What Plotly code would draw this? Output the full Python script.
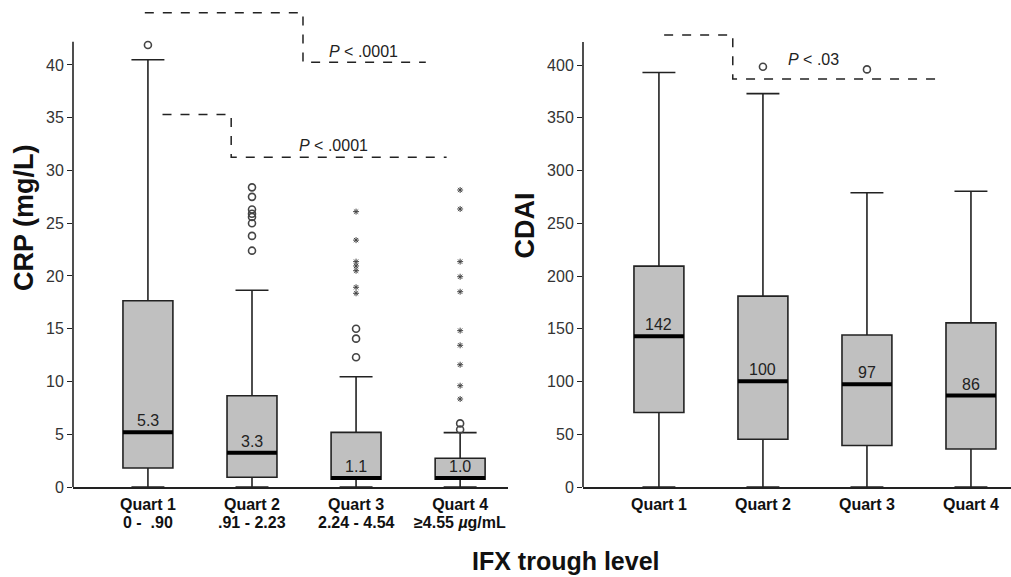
import plotly.graph_objects as go

# ---------------- data ----------------
quarts = [0, 1, 2, 3]
quart_names = ["Quart 1", "Quart 2", "Quart 3", "Quart 4"]
crp_ranges = ["0 -  .90", ".91 - 2.23", "2.24 - 4.54", "≥4.55 <i>µ</i>g/mL"]

crp_q1 = [1.8, 0.92, 0.73, 0.73]
crp_median = [5.2, 3.25, 0.85, 0.85]
crp_q3 = [17.66, 8.65, 5.18, 2.72]
crp_low = [0, 0, 0, 0]
crp_high = [40.5, 18.65, 10.45, 5.15]
crp_median_labels = ["5.3", "3.3", "1.1", "1.0"]

crp_circle_x = [0, 1, 1, 1, 1, 1, 1, 1, 1, 2, 2, 2, 3, 3]
crp_circle_y = [41.9, 28.4, 27.5, 26.3, 25.9, 25.6, 25.0, 23.8, 22.4, 15.0, 14.06, 12.3, 6.03, 5.45]
crp_star_x = [2, 2, 2, 2, 2, 2, 2, 3, 3, 3, 3, 3, 3, 3, 3, 3, 3]
crp_star_y = [26.1, 23.4, 21.36, 20.95, 20.5, 18.93, 18.36,
              28.15, 26.35, 21.36, 19.93, 18.51, 14.82, 13.43, 11.59, 9.6, 8.34]

cdai_q1 = [70.6, 45.3, 39.3, 36.0]
cdai_median = [143, 100.3, 97.4, 86.7]
cdai_q3 = [209.4, 181, 144.2, 155.6]
cdai_low = [0, 0, 0, 0]
cdai_high = [393, 373, 279, 280.5]
cdai_median_labels = ["142", "100", "97", "86"]
cdai_circle_x = [1, 2]
cdai_circle_y = [398.5, 396]

# significance brackets (x in category units, y in data units)
crp_br1_x = [-0.03, 1.49, 1.49, 2.67]
crp_br1_y = [44.96, 44.96, 40.25, 40.25]
crp_br1_label = (2.07, 41.3, "<i>P</i> < .0001")
crp_br2_x = [0.14, 0.80, 0.80, 2.87]
crp_br2_y = [35.3, 35.3, 31.25, 31.25]
crp_br2_label = (1.78, 32.4, "<i>P</i> < .0001")
cdai_br_x = [0.05, 0.71, 0.71, 2.73]
cdai_br_y = [428.6, 428.6, 386.8, 386.8]
cdai_br_label = (1.49, 405.8, "<i>P</i> < .03")

crp_yticks = [0, 5, 10, 15, 20, 25, 30, 35, 40]
cdai_yticks = [0, 50, 100, 150, 200, 250, 300, 350, 400]

# ---------------- style ----------------
FONT = "Liberation Sans, Arial, sans-serif"
DARK = "#222222"
BOX_FILL = "#c0c0c0"
BOX_W = 0.48
crp_range = [0, 45.4]
cdai_range = [0, 454.2]
crp_axis_top = 42.2
cdai_axis_top = 422
left_dom = [73 / 1011, 508 / 1011]
right_dom = [583 / 1011, 1.0]

fig = go.Figure()


def add_panel(xa, ya, q1, med, q3, lo, hi, cx, cy, sx, sy):
    fig.add_trace(go.Box(
        x=quarts, q1=q1, median=med, q3=q3, lowerfence=lo, upperfence=hi,
        boxpoints=False, width=BOX_W, whiskerwidth=0.66,
        fillcolor=BOX_FILL, line=dict(color=DARK, width=1.6),
        xaxis=xa, yaxis=ya, showlegend=False, hoverinfo="skip"))
    mx, my = [], []
    for i, m in zip(quarts, med):
        mx += [i - BOX_W / 2, i + BOX_W / 2, None]
        my += [m, m, None]
    fig.add_trace(go.Scatter(x=mx, y=my, mode="lines",
                             line=dict(color="black", width=4),
                             xaxis=xa, yaxis=ya, showlegend=False, hoverinfo="skip"))
    if cx:
        fig.add_trace(go.Scatter(x=cx, y=cy, mode="markers",
                                 marker=dict(symbol="circle-open", size=7, color="#444",
                                             line=dict(width=1.6, color="#444")),
                                 xaxis=xa, yaxis=ya, showlegend=False, cliponaxis=False))
    if sx:
        fig.add_trace(go.Scatter(x=sx, y=sy, mode="markers",
                                 marker=dict(symbol="asterisk-open", size=5, color="#444",
                                             line=dict(width=1, color="#444")),
                                 xaxis=xa, yaxis=ya, showlegend=False, cliponaxis=False))


add_panel("x", "y", crp_q1, crp_median, crp_q3, crp_low, crp_high,
          crp_circle_x, crp_circle_y, crp_star_x, crp_star_y)
add_panel("x2", "y2", cdai_q1, cdai_median, cdai_q3, cdai_low, cdai_high,
          cdai_circle_x, cdai_circle_y, [], [])

# brackets
for bx, by, xa, ya in [(crp_br1_x, crp_br1_y, "x", "y"),
                       (crp_br2_x, crp_br2_y, "x", "y"),
                       (cdai_br_x, cdai_br_y, "x2", "y2")]:
    fig.add_trace(go.Scatter(x=bx, y=by, mode="lines",
                             line=dict(color=DARK, width=1.5, dash="dash"),
                             xaxis=xa, yaxis=ya, showlegend=False, hoverinfo="skip"))

annotations = []
for (lx, ly, txt), xa, ya in [(crp_br1_label, "x", "y"), (crp_br2_label, "x", "y"),
                              (cdai_br_label, "x2", "y2")]:
    annotations.append(dict(x=lx, y=ly, xref=xa, yref=ya, text=txt, showarrow=False,
                            font=dict(family=FONT, size=16, color=DARK)))

for meds, labels, xa, ya in [(crp_median, crp_median_labels, "x", "y"),
                             (cdai_median, cdai_median_labels, "x2", "y2")]:
    for i, m, t in zip(quarts, meds, labels):
        annotations.append(dict(x=i, y=m, xref=xa, yref=ya, text=t, showarrow=False,
                                yanchor="bottom", yshift=1,
                                font=dict(family=FONT, size=16, color=DARK)))

# second line of the left x tick labels (IFX ranges)
for i, t in zip(quarts, crp_ranges):
    annotations.append(dict(x=i, y=0, xref="x", yref="paper", yshift=-35,
                            xanchor="center", yanchor="middle", text="<b>" + t + "</b>",
                            showarrow=False, font=dict(family=FONT, size=16, color="#111")))

# axis titles
annotations.append(dict(x=24 / 1011, y=0.5616, xref="paper", yref="paper",
                        xanchor="center", yanchor="middle",
                        text="<b>CRP (mg/L)</b>", textangle=-90, showarrow=False,
                        font=dict(family=FONT, size=27, color="#111")))
annotations.append(dict(x=525 / 1011, y=0.546, xref="paper", yref="paper",
                        xanchor="center", yanchor="middle",
                        text="<b>CDAI</b>", textangle=-90, showarrow=False,
                        font=dict(family=FONT, size=27, color="#111")))
annotations.append(dict(x=566 / 1011, y=0, xref="paper", yref="paper", yshift=-74,
                        xanchor="center", yanchor="middle",
                        text="<b>IFX trough level</b>", showarrow=False,
                        font=dict(family=FONT, size=25, color="#111")))

# y axis lines that stop at the top tick region
shapes = [
    dict(type="line", xref="paper", yref="paper", x0=left_dom[0], x1=left_dom[0],
         y0=0, y1=crp_axis_top / crp_range[1], line=dict(color=DARK, width=1.6)),
    dict(type="line", xref="paper", yref="paper", x0=right_dom[0], x1=right_dom[0],
         y0=0, y1=cdai_axis_top / cdai_range[1], line=dict(color=DARK, width=1.6)),
]

xcommon = dict(showgrid=False, zeroline=False, showline=True, linecolor=DARK, linewidth=1.6,
               ticks="outside", ticklen=2, tickcolor="rgba(0,0,0,0)",
               tickfont=dict(family=FONT, size=16, color="#111"))
ycommon = dict(showgrid=False, zeroline=False, showline=False,
               ticks="outside", ticklen=5, tickwidth=1.3, tickcolor=DARK,
               tickfont=dict(family=FONT, size=16, color="#333"))

fig.update_layout(
    width=1011, height=577,
    margin=dict(l=0, r=0, t=8, b=90),
    paper_bgcolor="white", plot_bgcolor="white",
    xaxis=dict(domain=left_dom, range=[-0.72, 3.46], tickvals=quarts,
               ticktext=["<b>" + q + "</b>" for q in quart_names], anchor="y", **xcommon),
    yaxis=dict(domain=[0, 1], range=crp_range, tickvals=crp_yticks, anchor="x", **ycommon),
    xaxis2=dict(domain=right_dom, range=[-0.73, 3.385], tickvals=quarts,
                ticktext=["<b>" + q + "</b>" for q in quart_names], anchor="y2", **xcommon),
    yaxis2=dict(domain=[0, 1], range=cdai_range, tickvals=cdai_yticks, anchor="x2", **ycommon),
    annotations=annotations,
    shapes=shapes,
    showlegend=False,
)

fig.write_html("out.html")
